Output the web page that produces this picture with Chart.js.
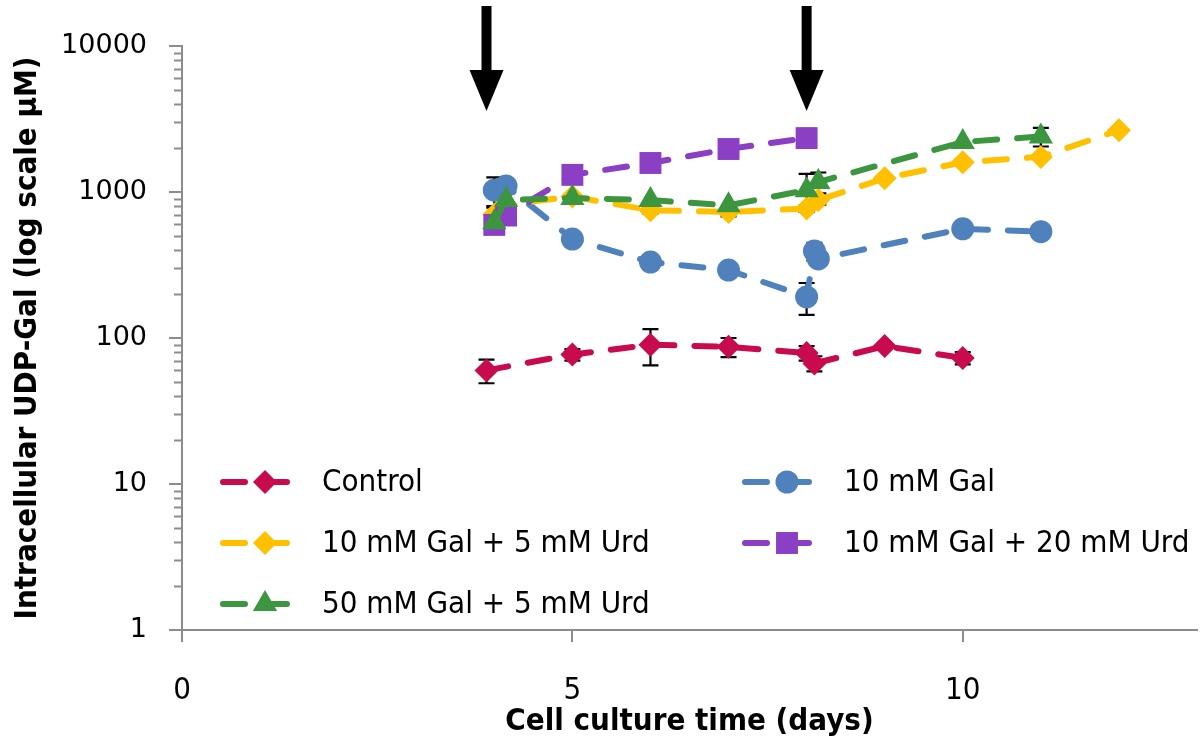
<!DOCTYPE html>
<html><head><meta charset="utf-8">
<script src="https://cdn.jsdelivr.net/npm/chart.js@4.4.1/dist/chart.umd.min.js"></script>
<style>html,body{margin:0;padding:0;background:#fff;}#wrap{width:1200px;height:752px;}</style>
</head><body><div id="wrap"><canvas id="c" width="1200" height="752"></canvas></div>
<script>
// ---- data ----
const seriesNames = ['Control', '10 mM Gal', '10 mM Gal + 5 mM Urd', '10 mM Gal + 20 mM Urd', '50 mM Gal + 5 mM Urd'];

const ctrlX   = [3.9, 5, 6, 7, 8, 8.1, 9, 10];
const ctrlY   = [60, 77, 90, 87, 79, 67, 88, 73];
const ctrlErr = [11, 7, 25, 13, 9, 8, 0, 7];

const galX   = [4.0, 4.15, 5, 6, 7, 8, 8.1, 8.15, 10, 11];
const galY   = [1030, 1100, 476, 331, 292, 191, 394, 348, 560, 535];
const galErr = [230, 0, 0, 0, 0, 47, 55, 0, 0, 0];

const yelX   = [4.0, 4.15, 5, 6, 7, 8, 8.15, 9, 10, 11, 12];
const yelY   = [700, 820, 930, 750, 730, 770, 880, 1240, 1600, 1740, 2650];
const yelErr = [80, 0, 0, 40, 50, 40, 60, 0, 70, 0, 80];

const purX   = [4.0, 4.15, 5, 6, 7, 8];
const purY   = [595, 690, 1310, 1580, 1970, 2340];
const purErr = [70, 0, 0, 0, 0, 0];

const greX   = [4.0, 4.15, 5, 6, 7, 8, 8.15, 10, 11];
const greY   = [620, 880, 910, 880, 810, 1030, 1170, 2200, 2400];
const greErr = [0, 0, 0, 0, 0, 300, 190, 0, 350];

const xTickValues = [0, 5, 10];
const yTickValues = [1, 10, 100, 1000, 10000];
const arrowDays = [3.9, 8.0];

const xTitle = 'Cell culture time (days)';
const yTitle = 'Intracellular UDP-Gal (log scale µM)';

// ---- build ----
function pts(xs, ys) { return xs.map((x, i) => ({x: x, y: ys[i]})); }
const errs = [ctrlErr, galErr, yelErr, purErr, greErr];
const colors = ['#C80A4E', '#4F81BD', '#FFC000', '#8A3FC4', '#3C9640'];
const styles = ['rectRot', 'circle', 'rectRot', 'rect', 'triangle'];
const radii = [12, 11.5, 12, 15.5, 14];
const xsAll = [ctrlX, galX, yelX, purX, greX];
const ysAll = [ctrlY, galY, yelY, purY, greY];
const DASH = [22, 20];

const datasets = seriesNames.map((n, i) => ({
  label: n,
  data: pts(xsAll[i], ysAll[i]),
  showLine: true,
  borderColor: colors[i],
  backgroundColor: colors[i],
  borderWidth: 6,
  borderDash: DASH,
  borderCapStyle: 'round',
  pointStyle: styles[i],
  pointRadius: radii[i],
  pointHoverRadius: radii[i],
  pointBorderWidth: 0,
  pointBackgroundColor: colors[i],
  tension: 0,
  order: 5 - i
}));

const AXIS = '#8C8C8C';
const LABEL_FONT = "'Liberation Sans Narrow','DejaVu Sans Condensed','Liberation Sans',sans-serif";

const custom = {
  id: 'custom',
  beforeDatasetsDraw(chart) {
    const ctx = chart.ctx, xs = chart.scales.x, ys = chart.scales.y;
    ctx.save();
    ctx.strokeStyle = '#000';
    ctx.lineWidth = 2.2;
    for (let d = 0; d < errs.length; d++) {
      for (let i = 0; i < errs[d].length; i++) {
        const e = errs[d][i];
        if (!e) continue;
        const px = xs.getPixelForValue(xsAll[d][i]);
        const t = ys.getPixelForValue(ysAll[d][i] + e);
        const b = ys.getPixelForValue(ysAll[d][i] - e);
        ctx.beginPath();
        ctx.moveTo(px, t); ctx.lineTo(px, b);
        ctx.moveTo(px - 8, t); ctx.lineTo(px + 8, t);
        ctx.moveTo(px - 8, b); ctx.lineTo(px + 8, b);
        ctx.stroke();
      }
    }
    ctx.restore();
  },
  afterDraw(chart) {
    const ctx = chart.ctx, xs = chart.scales.x, ys = chart.scales.y, ca = chart.chartArea;
    ctx.save();
    // minor y ticks
    ctx.strokeStyle = AXIS; ctx.lineWidth = 2;
    for (let p = 0; p < 4; p++) {
      for (let m = 2; m <= 9; m++) {
        const py = Math.round(ys.getPixelForValue(m * Math.pow(10, p))) + 0.5;
        ctx.beginPath(); ctx.moveTo(ca.left - 8, py); ctx.lineTo(ca.left, py); ctx.stroke();
      }
    }
    // arrows
    ctx.fillStyle = '#000';
    arrowDays.forEach(d => {
      const ax = xs.getPixelForValue(d);
      ctx.fillRect(ax - 5, 6, 10, 66);
      ctx.beginPath();
      ctx.moveTo(ax - 17, 70); ctx.lineTo(ax + 17, 70); ctx.lineTo(ax, 111); ctx.closePath();
      ctx.fill();
    });
    // legend
    const cols = [220, 742], rows = [482, 543, 604];
    ctx.font = "31px " + LABEL_FONT;
    ctx.textBaseline = 'middle'; ctx.textAlign = 'left';
    for (let i = 0; i < seriesNames.length; i++) {
      const lx = cols[i % 2], ly = rows[Math.floor(i / 2)];
      ctx.save();
      ctx.strokeStyle = colors[i]; ctx.lineWidth = 6; ctx.lineCap = 'round';
      ctx.setLineDash([22, 20]);
      ctx.beginPath(); ctx.moveTo(lx + 3, ly); ctx.lineTo(lx + 84, ly); ctx.stroke();
      ctx.restore();
      ctx.fillStyle = colors[i];
      Chart.helpers.drawPoint(ctx, {pointStyle: styles[i], radius: radii[i], borderWidth: 0}, lx + 45, ly);
      ctx.fillStyle = '#000';
      ctx.fillText(seriesNames[i], lx + 102, ly + 1);
    }
    // titles
    ctx.fillStyle = '#000';
    ctx.font = "bold 31px " + LABEL_FONT;
    ctx.textAlign = 'center'; ctx.textBaseline = 'middle';
    ctx.fillText(xTitle, (ca.left + ca.right) / 2, 722);
    ctx.translate(28, 338);
    ctx.rotate(-Math.PI / 2);
    ctx.fillText(yTitle, 0, 0);
    ctx.restore();
  }
};

new Chart(document.getElementById('c'), {
  type: 'scatter',
  data: {datasets},
  options: {
    responsive: false,
    animation: false,
    devicePixelRatio: 1,
    layout: {autoPadding: false, padding: {top: 46, right: 3, left: 0, bottom: 0}},
    plugins: {legend: {display: false}, tooltip: {enabled: false}},
    scales: {
      x: {
        type: 'linear', min: 0, max: 13,
        afterBuildTicks: s => { s.ticks = xTickValues.map(v => ({value: v})); },
        afterFit: s => { s.height = 122; s.paddingLeft = 0; s.paddingRight = 0; },
        grid: {drawOnChartArea: false, drawTicks: true, tickLength: 12, color: AXIS, lineWidth: 2},
        border: {color: AXIS, width: 2},
        ticks: {color: '#000', font: {family: LABEL_FONT, size: 31}, padding: 30, maxRotation: 0}
      },
      y: {
        type: 'logarithmic', min: 1, max: 10000,
        afterBuildTicks: s => { s.ticks = yTickValues.map(v => ({value: v})); },
        afterFit: s => { s.width = 182; s.paddingTop = 0; s.paddingBottom = 0; },
        grid: {drawOnChartArea: false, drawTicks: true, tickLength: 13, color: AXIS, lineWidth: 2},
        border: {color: AXIS, width: 2},
        ticks: {color: '#000', font: {family: "'DejaVu Sans',sans-serif", size: 27}, padding: 22,
          callback: v => String(v)}
      }
    }
  },
  plugins: [custom]
});
</script></body></html>
